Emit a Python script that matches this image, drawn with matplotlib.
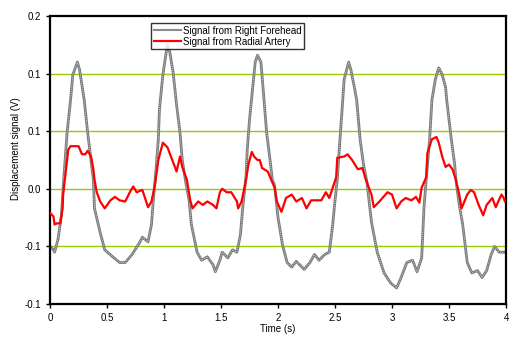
import matplotlib
matplotlib.use('Agg')
import matplotlib.pyplot as plt

plt.rcParams['font.family'] = ['Liberation Sans', 'DejaVu Sans']

# Signal from Right Forehead (s, V)
t_frente = [0.00, 0.03, 0.04, 0.07, 0.10, 0.12, 0.15, 0.18, 0.20, 0.24, 0.26, 0.30, 0.33, 0.38, 0.39,
            0.44, 0.48, 0.55, 0.61, 0.66, 0.72, 0.79, 0.81, 0.86, 0.89, 0.91, 0.93, 0.95, 0.96, 0.99,
            1.02, 1.03, 1.05, 1.08, 1.11, 1.14, 1.16, 1.19, 1.22, 1.24, 1.29, 1.33, 1.38, 1.43, 1.45,
            1.49, 1.51, 1.56, 1.60, 1.64, 1.67, 1.69, 1.72, 1.73, 1.75, 1.78, 1.80, 1.82, 1.85, 1.87,
            1.90, 1.93, 1.95, 1.97, 2.00, 2.04, 2.08, 2.12, 2.16, 2.23, 2.28, 2.32, 2.36, 2.41, 2.45,
            2.48, 2.50, 2.52, 2.54, 2.56, 2.58, 2.62, 2.64, 2.67, 2.69, 2.72, 2.75, 2.78, 2.82, 2.87,
            2.93, 2.99, 3.04, 3.08, 3.13, 3.18, 3.22, 3.26, 3.28, 3.30, 3.33, 3.35, 3.38, 3.41, 3.44,
            3.47, 3.48, 3.52, 3.55, 3.56, 3.59, 3.62, 3.66, 3.70, 3.75, 3.79, 3.83, 3.87, 3.90, 3.94,
            3.98]
v_frente = [-0.050, -0.053, -0.055, -0.044, -0.023, 0.008, 0.049, 0.077, 0.099, 0.110, 0.103, 0.077,
            0.049, 0.008, -0.017, -0.038, -0.053, -0.059, -0.064, -0.064, -0.057, -0.046, -0.042,
            -0.046, -0.031, -0.005, 0.017, 0.043, 0.069, 0.099, 0.119, 0.125, 0.119, 0.101, 0.073,
            0.049, 0.025, 0.006, -0.010, -0.031, -0.055, -0.062, -0.059, -0.066, -0.072, -0.062,
            -0.055, -0.060, -0.053, -0.055, -0.040, -0.017, 0.012, 0.034, 0.060, 0.090, 0.110, 0.116,
            0.110, 0.086, 0.049, 0.025, 0.008, 0.003, -0.025, -0.049, -0.064, -0.068, -0.063, -0.070,
            -0.064, -0.057, -0.062, -0.057, -0.055, -0.031, -0.010, 0.008, 0.038, 0.066, 0.095, 0.110,
            0.103, 0.088, 0.077, 0.043, 0.021, 0.006, -0.029, -0.055, -0.073, -0.082, -0.086, -0.077,
            -0.064, -0.062, -0.072, -0.060, -0.017, 0.008, 0.043, 0.077, 0.095, 0.105, 0.099, 0.088,
            0.077, 0.043, 0.021, 0.008, -0.014, -0.031, -0.064, -0.073, -0.071, -0.077, -0.071,
            -0.057, -0.050, -0.055, -0.055]

# Signal from Radial Artery (s, V)
t_radial = [0.00, 0.03, 0.04, 0.06, 0.09, 0.11, 0.115, 0.13, 0.15, 0.16, 0.18, 0.22, 0.25, 0.28, 0.31,
            0.33, 0.36, 0.38, 0.39, 0.41, 0.44, 0.48, 0.53, 0.57, 0.61, 0.66, 0.70, 0.73, 0.76, 0.81,
            0.83, 0.86, 0.89, 0.92, 0.95, 0.99, 1.03, 1.08, 1.11, 1.14, 1.16, 1.20, 1.23, 1.25, 1.30,
            1.34, 1.38, 1.43, 1.46, 1.49, 1.51, 1.55, 1.59, 1.64, 1.65, 1.68, 1.71, 1.72, 1.74, 1.77,
            1.79, 1.82, 1.84, 1.86, 1.91, 1.94, 1.97, 1.99, 2.03, 2.07, 2.12, 2.16, 2.21, 2.25, 2.29,
            2.35, 2.38, 2.42, 2.45, 2.48, 2.51, 2.52, 2.58, 2.61, 2.65, 2.70, 2.74, 2.77, 2.82, 2.84,
            2.89, 2.96, 3.00, 3.04, 3.08, 3.12, 3.17, 3.21, 3.24, 3.26, 3.30, 3.31, 3.35, 3.39, 3.41,
            3.44, 3.47, 3.50, 3.53, 3.56, 3.59, 3.61, 3.66, 3.69, 3.72, 3.76, 3.80, 3.83, 3.88, 3.91,
            3.96, 3.98, 3.99]
v_radial = [-0.021, -0.024, -0.031, -0.030, -0.030, -0.017, -0.005, 0.008, 0.025, 0.034, 0.037, 0.037,
            0.037, 0.030, 0.030, 0.033, 0.028, 0.017, 0.008, -0.003, -0.011, -0.017, -0.010, -0.007,
            -0.010, -0.011, -0.003, 0.002, -0.003, -0.001, -0.007, -0.016, -0.011, 0.003, 0.025,
            0.040, 0.036, 0.023, 0.015, 0.028, 0.019, 0.008, -0.010, -0.017, -0.011, -0.014, -0.011,
            -0.014, -0.017, -0.003, 0.000, -0.003, -0.003, -0.011, -0.017, -0.011, 0.003, 0.008,
            0.021, 0.032, 0.028, 0.025, 0.025, 0.018, 0.015, 0.008, 0.001, -0.011, -0.020, -0.008,
            -0.005, -0.011, -0.008, -0.017, -0.010, -0.010, -0.010, -0.003, -0.008, 0.001, 0.010,
            0.027, 0.028, 0.030, 0.025, 0.017, 0.018, 0.008, -0.005, -0.016, -0.011, -0.003, -0.005,
            -0.017, -0.011, -0.008, -0.010, -0.007, -0.012, 0.001, 0.010, 0.031, 0.043, 0.045, 0.040,
            0.028, 0.019, 0.021, 0.017, 0.008, -0.005, -0.017, -0.005, -0.001, -0.003, -0.014,
            -0.023, -0.014, -0.008, -0.016, -0.005, -0.008, -0.011]

yticks = [0.15, 0.10, 0.05, 0.0, -0.05, -0.10]
ytick_labels = ['0.2', '0.1', '0.1', '0.0', '-0.1', '-0.1']
xticks = [0, 0.5, 1, 1.5, 2, 2.5, 3, 3.5, 4]
xtick_labels = ['0', '0.5', '1', '1.5', '2', '2.5', '3', '3.5', '4']

fig = plt.figure(figsize=(5.2, 3.53), dpi=100)
ax = fig.add_axes([0.0962, 0.1388, 0.8769, 0.8159])

for y in [0.10, 0.05, 0.0, -0.05]:
    ax.axhline(y, color='#99cc00', lw=1, zorder=1)

ax.plot(t_frente, v_frente, color='#7a7a7a', lw=2.0, zorder=2)
ax.plot(t_frente, v_frente, color='#e8e8e8', lw=0.6, ls=(0, (1, 1.5)), zorder=2)
ax.plot([], [], color='#8a8a8a', lw=1.5, label='Signal from Right Forehead')
ax.plot(t_radial, v_radial, color='#ff0000', lw=1.6, zorder=3, label='Signal from Radial Artery')

ax.set_xlim(0, 4)
ax.set_ylim(-0.1, 0.15)
ax.set_xticks(xticks)
ax.set_xticklabels(xtick_labels)
ax.set_yticks(yticks)
ax.set_yticklabels(ytick_labels)
ax.tick_params(labelsize=7, length=3, width=1, direction='out')
for s in ax.spines.values():
    s.set_linewidth(1.6)
    s.set_color('black')

ax.set_xlabel('Time (s)', fontsize=7, labelpad=1)
ax.set_ylabel('Displacement signal (V)', fontsize=7)
ax.yaxis.set_label_coords(-0.064, 0.54)

leg = ax.legend(loc='upper left', bbox_to_anchor=(0.222, 0.975), fontsize=7, frameon=True,
                fancybox=False, edgecolor='black', handlelength=2.8, handletextpad=0.2,
                borderpad=0.25, labelspacing=0.1, borderaxespad=0)
leg.get_frame().set_linewidth(1)

fig.savefig('out.png', dpi=100)
